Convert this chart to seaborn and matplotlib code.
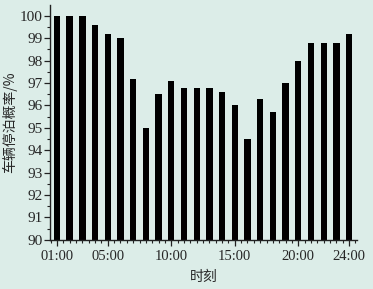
import matplotlib
matplotlib.use('Agg')
import matplotlib.pyplot as plt
import seaborn as sns
import numpy as np
from matplotlib.ticker import MultipleLocator

# dados
horas = list(range(1, 25))
probabilidade = [100.0, 100.0, 100.0, 99.6, 99.2, 99.0, 97.2, 95.0, 96.5, 97.1, 96.8, 96.8,
                 96.8, 96.6, 96.0, 94.5, 96.3, 95.7, 97.0, 98.0, 98.8, 98.8, 98.8, 99.2]
horas_rotulo = [1, 5, 10, 15, 20, 24]
rotulos_x = ['01:00', '05:00', '10:00', '15:00', '20:00', '24:00']

fundo = '#dcede8'
serif = ['Liberation Serif', 'Noto Sans CJK SC']
cjk = ['Noto Sans CJK SC', 'DejaVu Sans']

sns.set_style('ticks')
fig = plt.figure(figsize=(3.73, 2.89), dpi=100, facecolor=fundo)
ax = fig.add_axes([0.134, 0.170, 0.823, 0.813])
ax.set_facecolor(fundo)

sns.barplot(x=horas, y=probabilidade, color='black', width=0.5, native_scale=True,
            saturation=1, linewidth=0, ax=ax)

ax.set_ylim(90, 100.49)
ax.set_xlim(0.45, 24.62)

ax.yaxis.set_major_locator(MultipleLocator(1))
ax.yaxis.set_minor_locator(MultipleLocator(0.5))
ax.set_xticks(horas_rotulo)
ax.set_xticklabels(rotulos_x, family=serif, fontsize=10.5)
ax.xaxis.set_minor_locator(MultipleLocator(0.5))
for lab in ax.get_yticklabels():
    lab.set_family(serif)
    lab.set_fontsize(11)

ax.tick_params(axis='both', which='major', direction='out', length=4, width=0.9, color='#222222', pad=1.5)
ax.tick_params(axis='x', which='major', pad=3)
ax.tick_params(axis='both', which='minor', direction='out', length=2.5, width=0.8, color='#222222')

sns.despine(ax=ax)
for s in ['left', 'bottom']:
    ax.spines[s].set_linewidth(1.0)
    ax.spines[s].set_color('#222222')

ax.set_xlabel('时刻', family=cjk, fontsize=10, labelpad=5)
ax.set_ylabel('车辆停泊概率/%', family=cjk, fontsize=10, labelpad=2)

fig.savefig('out.png', dpi=100, facecolor=fundo)
